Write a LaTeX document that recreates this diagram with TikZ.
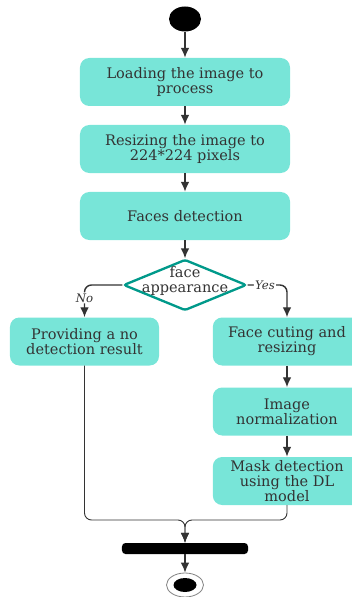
\documentclass[tikz,border=0pt]{standalone}
\usepackage{fontspec}
\setmainfont{DejaVu Serif}
\usetikzlibrary{shapes.geometric,arrows.meta}
\definecolor{boxfill}{HTML}{78E5D8}
\definecolor{decisionline}{HTML}{00998A}
\definecolor{inkgray}{HTML}{333333}

\begin{document}
\begin{tikzpicture}
    [
    x=0.03cm, y=-0.03cm,
    font=\fontsize{12.4}{12.8}\selectfont, text=inkgray,
    activity/.style={rectangle,rounded corners=8pt,fill=boxfill,inner sep=2pt,align=center,minimum height=1.44cm},
    wide/.style={activity,minimum width=6.3cm},
    narrow/.style={activity,minimum width=4.45cm},
    decision/.style={diamond,draw=decisionline,line width=2pt,rounded corners=2pt,minimum width=3.69cm,minimum height=1.53cm,inner sep=0pt},
    flow/.style={draw=inkgray,line width=1.2pt,-{Latex[length=3mm,width=2.6mm]}},
    mergeline/.style={flow,line width=0.8pt,rounded corners=6pt},
    guard/.style={font=\itshape\fontsize{10}{10}\selectfont,fill=white,inner sep=1pt}
    ]
    \useasboundingbox (0,0) rectangle (351,597);
    % initial node and the main column
    \node (start) at (185,19) [ellipse,fill=black,minimum width=0.96cm,minimum height=0.75cm] {};
    \node (load) at (185,82) [wide] {Loading the image to\\process};
    \node (resize) at (185,149) [wide] {Resizing the image to\\224*224 pixels};
    \node (faces) at (185,216) [wide] {Faces detection};
    \node (dec) at (185,285) [decision] {};
    \node (question) at (185,281) [align=center] {face\\appearance};
    % the two branches
    \node (nores) at (84.5,341.5) [narrow,minimum width=4.47cm] {Providing a no\\detection result};
    \node (cut) at (287,341.5) [narrow] {Face cuting and\\resizing};
    \node (norm) at (287,411.5) [narrow] {Image\\normalization};
    \node (mask) at (287,481) [narrow] {Mask detection\\using the DL\\model};
    % join bar and final node
    \coordinate (merge) at (185,520);
    \node (bar) at (185,548.5) [rectangle,rounded corners=3pt,fill=black,minimum width=3.78cm,minimum height=0.33cm,inner sep=0pt] {};
    \node (stop) at (185,585) [ellipse,draw=inkgray!60,line width=0.7pt,minimum width=1.11cm,minimum height=0.72cm] {};
    \node (stopdot) at (stop) [ellipse,fill=black,minimum width=0.69cm,minimum height=0.42cm] {};
    \draw [flow] (start) to (load);
    \draw [flow] (load) to (resize);
    \draw [flow] (resize) to (faces);
    \draw [flow] (faces) to (dec);
    \draw [flow,rounded corners=6pt] (dec.west) -| node[guard,pos=0.7] {No} (nores.north);
    \draw [flow,rounded corners=6pt] (dec.east) -| node[guard,pos=0.22] {Yes} (cut.north);
    \draw [flow] (cut) to (norm);
    \draw [flow] (norm) to (mask);
    \draw [mergeline] (nores.south) |- (merge) -- (bar.north);
    \draw [mergeline] (mask.south) |- (merge) -- (bar.north);
    \draw [flow] (bar) to (stop);
  \end{tikzpicture}
\end{document}
